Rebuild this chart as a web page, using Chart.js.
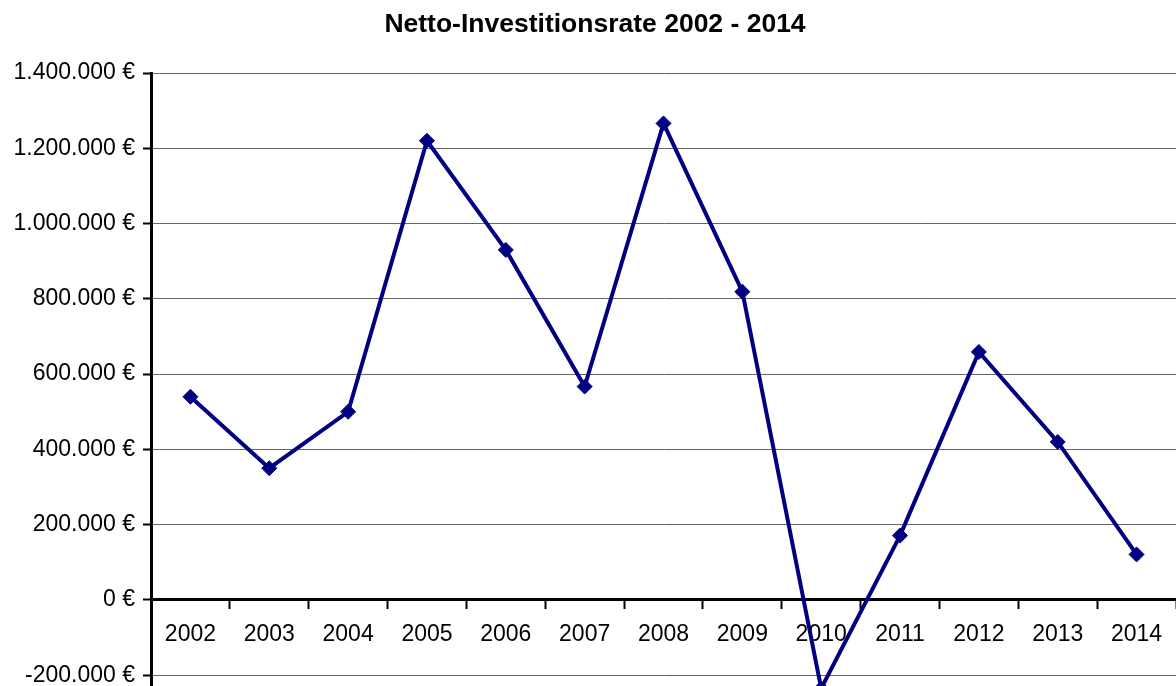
<!DOCTYPE html>
<html><head><meta charset="utf-8">
<script src="https://cdn.jsdelivr.net/npm/chart.js@4/dist/chart.umd.min.js"></script>
<style>html,body{margin:0;padding:0;background:#fff;overflow:hidden}</style>
</head><body>
<canvas id="c" width="1176" height="686"></canvas>
<script>
const years = ['2002','2003','2004','2005','2006','2007','2008','2009','2010','2011','2012','2013','2014'];
const netInvestment = [540000, 350000, 500000, 1220000, 930000, 567000, 1266000, 819000, -235000, 171000, 659000, 420000, 121000];
const yTickValues = [-200000, 0, 200000, 400000, 600000, 800000, 1000000, 1200000, 1400000];
const titleText = 'Netto-Investitionsrate 2002 - 2014';

const fontFamily = "'Liberation Sans', Arial, Helvetica, sans-serif";
function fmt(v) {
  const s = String(Math.abs(v)).replace(/\B(?=(\d{3})+(?!\d))/g, '.');
  return (v < 0 ? '-' : '') + s + ' €';
}
function zeroPad(s) { s.paddingTop = 0; s.paddingBottom = 0; s.paddingLeft = 0; s.paddingRight = 0; }

new Chart(document.getElementById('c'), {
  type: 'line',
  data: {
    labels: years,
    datasets: [{
      data: netInvestment,
      borderColor: '#000080',
      backgroundColor: '#000080',
      borderWidth: 4,
      tension: 0,
      fill: false,
      pointStyle: 'rectRot',
      pointRadius: 7.5,
      pointBorderWidth: 1,
      pointBackgroundColor: '#000080',
      pointBorderColor: '#000080'
    }]
  },
  options: {
    responsive: false,
    animation: false,
    devicePixelRatio: 1,
    layout: { autoPadding: false, padding: { left: 14, right: 0, top: 0, bottom: 0 } },
    plugins: {
      legend: { display: false },
      tooltip: { enabled: false },
      title: {
        display: true,
        text: titleText,
        color: '#000',
        font: { family: fontFamily, size: 26.5, weight: 'bold' },
        padding: { top: 9, bottom: 32.2 }
      }
    },
    scales: {
      x: {
        type: 'category',
        position: { y: 0 },
        offset: true,
        afterFit: zeroPad,
        grid: { offset: true, drawOnChartArea: false, drawTicks: true, tickLength: 8, tickWidth: 2, tickColor: '#000' },
        border: { display: true, color: '#000', width: 3 },
        ticks: { color: '#000', font: { family: fontFamily, size: 23 }, padding: 13, maxRotation: 0, autoSkip: false }
      },
      y: {
        min: -228500,
        max: 1400000,
        afterBuildTicks: s => { s.ticks = yTickValues.map(v => ({ value: v })); },
        afterFit: s => { s.width = 137; zeroPad(s); },
        grid: {
          color: c => (c.tick && c.tick.value === 0) ? 'rgba(0,0,0,0)' : '#666',
          lineWidth: 1,
          tickLength: 8,
          tickWidth: 2,
          tickColor: '#000'
        },
        border: { color: '#000', width: 3 },
        ticks: { color: '#000', font: { family: fontFamily, size: 23 }, padding: 8, callback: v => fmt(v) }
      }
    }
  }
});
</script>
</body></html>
